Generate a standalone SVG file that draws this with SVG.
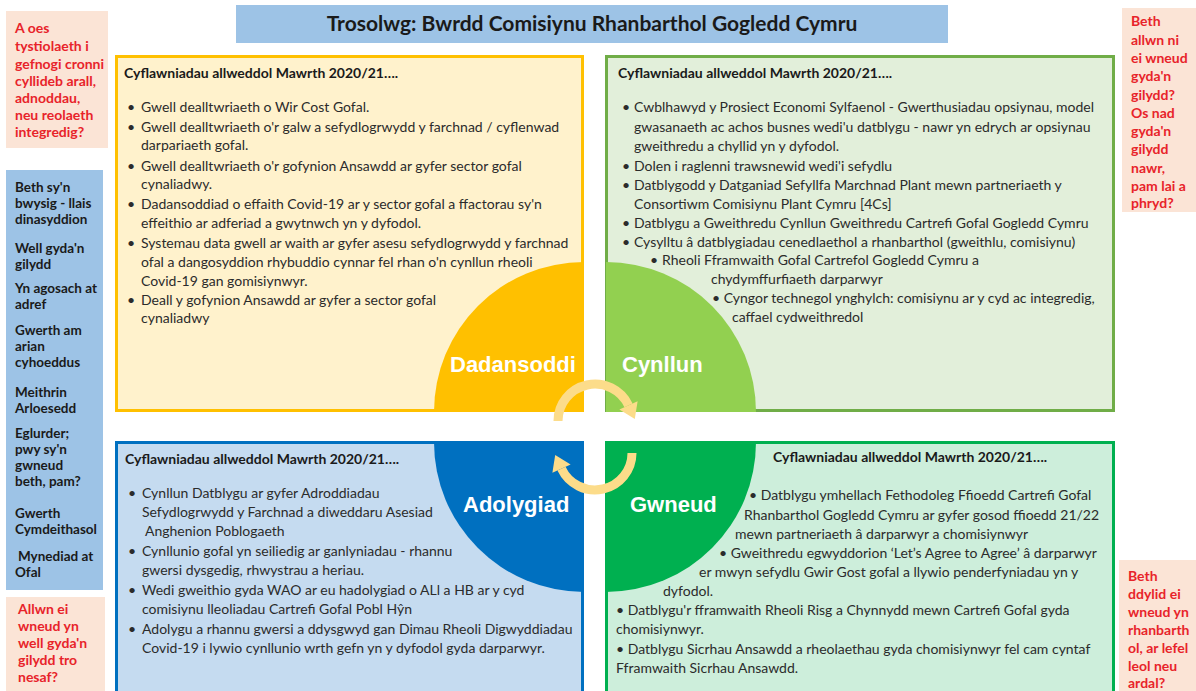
<svg xmlns="http://www.w3.org/2000/svg" width="1196" height="691" viewBox="0 0 1196 691">
<style>
.body{font-family:Lato,"Liberation Sans",sans-serif;font-size:14px;fill:#2b2b2b;white-space:pre}
.head{font-family:Lato,"Liberation Sans",sans-serif;font-size:14px;font-weight:bold;fill:#1a1a1a}
.red{font-family:Lato,"Liberation Sans",sans-serif;font-size:14px;font-weight:bold;fill:#e8232a}
.blue{font-family:Lato,"Liberation Sans",sans-serif;font-size:13.5px;font-weight:bold;fill:#1a1a1a}
.pie{font-family:"Liberation Sans",Arial,sans-serif;font-size:22px;font-weight:bold;fill:#ffffff}
.title{font-family:Lato,"Liberation Sans",sans-serif;font-size:21px;font-weight:bold;fill:#1a1a1a}
.arc{fill:none;stroke:#fcdc8a;stroke-width:9}
.ah{fill:#fcdc8a}
</style>
<rect width="1196" height="691" fill="#ffffff"/>

<g id="title">
<rect x="236" y="5" width="712" height="38" fill="#9dc3e6"/>
<text class="title" x="592" y="31" text-anchor="middle">Trosolwg: Bwrdd Comisiynu Rhanbarthol Gogledd Cymru</text>
</g>

<g id="q-ask-top-left">
<rect x="6" y="11" width="102" height="137" fill="#fbe4d6"/>
<text class="red" x="15" y="33">A oes</text>
<text class="red" x="15" y="51">tystiolaeth i</text>
<text class="red" x="15" y="69">gefnogi cronni</text>
<text class="red" x="15" y="86">cyllideb arall,</text>
<text class="red" x="15" y="103">adnoddau,</text>
<text class="red" x="15" y="120">neu reolaeth</text>
<text class="red" x="15" y="137">integredig?</text>
</g>

<g id="values-panel">
<rect x="6" y="170" width="97" height="420" fill="#9dc3e6"/>
<text class="blue" x="15" y="192">Beth sy'n</text>
<text class="blue" x="15" y="208">bwysig - llais</text>
<text class="blue" x="15" y="224">dinasyddion</text>
<text class="blue" x="15" y="253">Well gyda'n</text>
<text class="blue" x="15" y="269">gilydd</text>
<text class="blue" x="15" y="293">Yn agosach at</text>
<text class="blue" x="15" y="309">adref</text>
<text class="blue" x="15" y="335">Gwerth am</text>
<text class="blue" x="15" y="351">arian</text>
<text class="blue" x="15" y="367">cyhoeddus</text>
<text class="blue" x="15" y="397">Meithrin</text>
<text class="blue" x="15" y="413">Arloesedd</text>
<text class="blue" x="15" y="438">Eglurder;</text>
<text class="blue" x="15" y="454">pwy sy'n</text>
<text class="blue" x="15" y="470">gwneud</text>
<text class="blue" x="15" y="486">beth, pam?</text>
<text class="blue" x="15" y="518">Gwerth</text>
<text class="blue" x="15" y="534">Cymdeithasol</text>
<text class="blue" x="18" y="561">Mynediad at</text>
<text class="blue" x="15" y="577">Ofal</text>
</g>

<g id="q-ask-bottom-left">
<rect x="6" y="597" width="99" height="94" fill="#fbe4d6"/>
<text class="red" x="18" y="614">Allwn ei</text>
<text class="red" x="18" y="631">wneud yn</text>
<text class="red" x="18" y="648">well gyda'n</text>
<text class="red" x="18" y="665">gilydd tro</text>
<text class="red" x="18" y="682">nesaf?</text>
</g>

<g id="q-ask-top-right">
<rect x="1122" y="8" width="74" height="204" fill="#fbe4d6"/>
<text class="red" x="1131" y="26">Beth</text>
<text class="red" x="1131" y="45">allwn ni</text>
<text class="red" x="1131" y="63">ei wneud</text>
<text class="red" x="1131" y="81">gyda'n</text>
<text class="red" x="1131" y="100">gilydd?</text>
<text class="red" x="1131" y="118">Os nad</text>
<text class="red" x="1131" y="136">gyda'n</text>
<text class="red" x="1131" y="154">gilydd</text>
<text class="red" x="1131" y="173">nawr,</text>
<text class="red" x="1131" y="191">pam lai a</text>
<text class="red" x="1131" y="208">phryd?</text>
</g>

<g id="q-ask-bottom-right">
<rect x="1119" y="560" width="77" height="131" fill="#fbe4d6"/>
<text class="red" x="1128" y="581">Beth</text>
<text class="red" x="1128" y="599">ddylid ei</text>
<text class="red" x="1128" y="617">wneud yn</text>
<text class="red" x="1128" y="635">rhanbarth</text>
<text class="red" x="1128" y="653">ol, ar lefel</text>
<text class="red" x="1128" y="671">leol neu</text>
<text class="red" x="1128" y="688">ardal?</text>
</g>

<g id="dadansoddi">
<rect x="116.5" y="56.5" width="466" height="354" fill="#fff2cc" stroke="#ffc000" stroke-width="3"/>
<path d="M584,412 L434,412 A150,150 0 0 1 584,262 Z" fill="#ffc000"/>
<text class="pie" x="450" y="372">Dadansoddi</text>
<text class="head" x="124" y="78">Cyflawniadau allweddol Mawrth 2020/21….</text>
<g class="body">
<text x="127" y="112">•</text><text x="141" y="112">Gwell dealltwriaeth o Wir Cost Gofal.</text>
<text x="127" y="132">•</text><text x="141" y="132">Gwell dealltwriaeth o'r galw a sefydlogrwydd y farchnad / cyflenwad</text>
<text x="141" y="150">darpariaeth  gofal.</text>
<text x="127" y="171">•</text><text x="141" y="171">Gwell dealltwriaeth o'r gofynion Ansawdd ar gyfer sector gofal</text>
<text x="141" y="189">cynaliadwy.</text>
<text x="127" y="209">•</text><text x="141" y="209">Dadansoddiad o effaith Covid-19 ar y sector gofal a ffactorau sy'n</text>
<text x="141" y="228">effeithio ar adferiad a gwytnwch yn y dyfodol.</text>
<text x="127" y="248">•</text><text x="141" y="248">Systemau data gwell ar waith ar gyfer asesu sefydlogrwydd y farchnad</text>
<text x="141" y="267">ofal a dangosyddion rhybuddio  cynnar fel rhan o'n cynllun rheoli</text>
<text x="141" y="286">Covid-19 gan gomisiynwyr.</text>
<text x="127" y="305">•</text><text x="141" y="305">Deall y gofynion  Ansawdd ar gyfer a sector gofal</text>
<text x="141" y="323">cynaliadwy</text>
</g>
</g>

<g id="cynllun">
<rect x="606.5" y="56.5" width="507" height="354" fill="#e2efda" stroke="#70ad47" stroke-width="3"/>
<path d="M606,412 L606,262 A150,150 0 0 1 756,412 Z" fill="#92d050"/>
<text class="pie" x="622" y="372">Cynllun</text>
<text class="head" x="618" y="78">Cyflawniadau allweddol Mawrth 2020/21….</text>
<g class="body">
<text x="622" y="112">•</text><text x="634" y="112">Cwblhawyd y Prosiect Economi Sylfaenol - Gwerthusiadau opsiynau, model</text>
<text x="634" y="132">gwasanaeth ac achos busnes wedi'u datblygu - nawr yn edrych ar opsiynau</text>
<text x="634" y="151">gweithredu a chyllid yn y dyfodol.</text>
<text x="622" y="171">•</text><text x="634" y="171">Dolen i raglenni trawsnewid wedi'i sefydlu</text>
<text x="622" y="190">•</text><text x="634" y="190">Datblygodd y Datganiad Sefyllfa Marchnad Plant mewn partneriaeth  y</text>
<text x="634" y="209">Consortiwm  Comisiynu Plant Cymru  [4Cs]</text>
<text x="622" y="228">•</text><text x="634" y="228">Datblygu a Gweithredu  Cynllun Gweithredu  Cartrefi Gofal Gogledd Cymru</text>
<text x="622" y="247">•</text><text x="634" y="247">Cysylltu â datblygiadau cenedlaethol a rhanbarthol  (gweithlu, comisiynu)</text>
<text x="650" y="265">•</text><text x="662" y="265">Rheoli Fframwaith  Gofal Cartrefol Gogledd Cymru  a</text>
<text x="711" y="284">chydymffurfiaeth darparwyr</text>
<text x="712" y="303">• Cyngor technegol ynghylch: comisiynu ar y cyd ac integredig,</text>
<text x="732" y="322">caffael cydweithredol</text>
</g>
</g>

<g id="adolygiad">
<rect x="116.5" y="442.5" width="466" height="260" fill="#c5dbf0" stroke="#0070c0" stroke-width="3"/>
<path d="M584,442 L584,592 A150,150 0 0 1 434,442 Z" fill="#0070c0"/>
<text class="pie" x="463" y="512">Adolygiad</text>
<text class="head" x="125" y="464">Cyflawniadau allweddol Mawrth 2020/21….</text>
<g class="body">
<text x="128" y="498">•</text><text x="142" y="498">Cynllun Datblygu ar gyfer Adroddiadau</text>
<text x="142" y="517">Sefydlogrwydd  y Farchnad a diweddaru  Asesiad</text>
<text x="145" y="536">Anghenion Poblogaeth</text>
<text x="128" y="556">•</text><text x="142" y="556">Cynllunio gofal yn seiliedig ar ganlyniadau - rhannu</text>
<text x="142" y="575">gwersi dysgedig, rhwystrau a heriau.</text>
<text x="128" y="595">•</text><text x="142" y="595">Wedi gweithio gyda WAO ar eu hadolygiad o ALl a HB ar y cyd</text>
<text x="142" y="614">comisiynu lleoliadau Cartrefi Gofal Pobl Hŷn</text>
<text x="128" y="634">•</text><text x="142" y="634">Adolygu a rhannu gwersi a ddysgwyd gan Dimau Rheoli Digwyddiadau</text>
<text x="142" y="653">Covid-19 i lywio cynllunio wrth gefn yn y dyfodol gyda darparwyr.</text>
</g>
</g>

<g id="gwneud">
<rect x="606.5" y="442.5" width="507" height="260" fill="#cdeedb" stroke="#00b050" stroke-width="3"/>
<path d="M606,442 L756,442 A150,150 0 0 1 606,592 Z" fill="#00b050"/>
<text class="pie" x="630" y="512">Gwneud</text>
<text class="head" x="773" y="462">Cyflawniadau allweddol Mawrth 2020/21….</text>
<g class="body">
<text x="749" y="500">• Datblygu ymhellach Fethodoleg  Ffioedd Cartrefi Gofal</text>
<text x="744" y="520">Rhanbarthol  Gogledd Cymru  ar gyfer gosod ffioedd 21/22</text>
<text x="735" y="539">mewn partneriaeth â darparwyr  a chomisiynwyr</text>
<text x="719" y="558">• Gweithredu  egwyddorion  ‘Let’s Agree to Agree’ â darparwyr</text>
<text x="699" y="577">er mwyn  sefydlu Gwir Gost gofal a llywio penderfyniadau  yn y</text>
<text x="663" y="596">dyfodol.</text>
<text x="616" y="615">• Datblygu'r fframwaith  Rheoli Risg a Chynnydd mewn  Cartrefi Gofal gyda</text>
<text x="616" y="634">chomisiynwyr.</text>
<text x="616" y="654">• Datblygu Sicrhau  Ansawdd a rheolaethau gyda chomisiynwyr  fel cam cyntaf</text>
<text x="616" y="673">Fframwaith Sicrhau Ansawdd.</text>
</g>
</g>

<g id="connectors">
<path class="arc" d="M558,421 A37,37 0 0 1 628.5,405.4"/>
<polygon class="ah" points="637.6,401.2 619.4,409.6 634.8,419"/>
<g transform="rotate(180 595 437)">
<path class="arc" d="M558,421 A37,37 0 0 1 628.5,405.4"/>
<polygon class="ah" points="637.6,401.2 619.4,409.6 634.8,419"/>
</g>
</g>
</svg>
